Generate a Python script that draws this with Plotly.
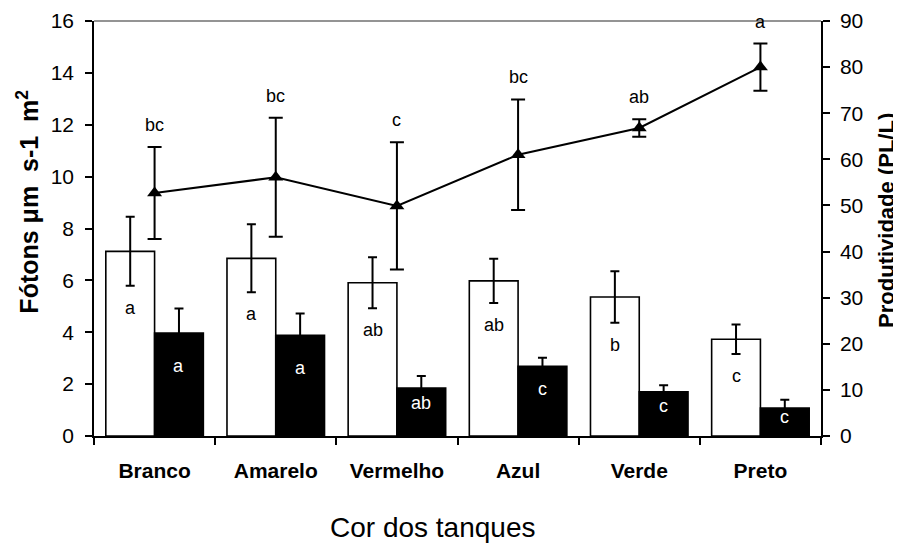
import plotly.graph_objects as go

# ── Data ─────────────────────────────────────────────────────────────────────
categories = ["Branco", "Amarelo", "Vermelho", "Azul", "Verde", "Preto"]

white_vals = [7.12, 6.85, 5.91, 5.98, 5.36, 3.73]
white_err = [1.33, 1.31, 0.98, 0.85, 0.99, 0.57]
white_letters = ["a", "a", "ab", "ab", "b", "c"]

black_vals = [3.97, 3.88, 1.85, 2.69, 1.70, 1.08]
black_err = [0.95, 0.84, 0.46, 0.33, 0.26, 0.32]
black_letters = ["a", "a", "ab", "c", "c", "c"]

prod_vals = [52.7, 56.1, 49.9, 61.0, 66.8, 80.0]
prod_err = [10.0, 12.9, 13.8, 12.0, 1.9, 5.1]
prod_letters = ["bc", "bc", "c", "bc", "ab", "a"]

FONT = "Liberation Sans, Arial, sans-serif"
BARGAP = 0.195
HALF = (1 - BARGAP) / 4  # offset of each bar centre from category centre

fig = go.Figure()

fig.add_trace(go.Bar(
    x=categories, y=white_vals,
    marker=dict(color="white", line=dict(color="black", width=1.6)),
    error_y=dict(type="data", array=white_err, color="black", thickness=2, width=4.5),
    yaxis="y", showlegend=False,
))
fig.add_trace(go.Bar(
    x=categories, y=black_vals,
    marker=dict(color="black", line=dict(color="black", width=1.6)),
    error_y=dict(type="data", array=black_err, color="black", thickness=2, width=4.5),
    yaxis="y", showlegend=False,
))
fig.add_trace(go.Scatter(
    x=categories, y=prod_vals, mode="lines+markers",
    line=dict(color="black", width=2),
    marker=dict(symbol="triangle-up", size=13, color="black"),
    error_y=dict(type="data", array=prod_err, color="black", thickness=2, width=7),
    yaxis="y2", showlegend=False,
))

# ── Letter labels ────────────────────────────────────────────────────────────
for i, (v, e, t) in enumerate(zip(white_vals, white_err, white_letters)):
    fig.add_annotation(x=i - HALF, y=v - e, yref="y", text=t, showarrow=False,
                       yanchor="top", yshift=-10, font=dict(size=18, color="black"))
for i, (v, t) in enumerate(zip(black_vals, black_letters)):
    fig.add_annotation(x=i + HALF, y=v * 0.68, yref="y", text=t, showarrow=False,
                       yanchor="middle", font=dict(size=18, color="white"))
for i, (v, e, t) in enumerate(zip(prod_vals, prod_err, prod_letters)):
    fig.add_annotation(x=i, y=v + e, yref="y2", text=t, showarrow=False,
                       yanchor="bottom", yshift=10, font=dict(size=18, color="black"))

# ── Axis titles as annotations ───────────────────────────────────────────────
fig.add_annotation(xref="paper", yref="paper", x=-0.092, y=0.565,
                   xanchor="center", yanchor="middle",
                   text="<b>Fótons μm  s-1  m<sup>2</sup></b>", textangle=-90,
                   showarrow=False, font=dict(size=25, color="black"))
fig.add_annotation(xref="paper", yref="paper", x=1.089, y=0.52,
                   xanchor="center", yanchor="middle",
                   text="<b>Produtividade (PL/L)</b>", textangle=-90,
                   showarrow=False, font=dict(size=22, color="black"))
fig.add_annotation(xref="paper", yref="paper", x=0.465, y=-0.22,
                   xanchor="center", yanchor="middle",
                   text="Cor dos tanques", showarrow=False,
                   font=dict(size=28, color="black"))

# top frame line
fig.add_shape(type="line", xref="paper", yref="paper", x0=0, x1=1, y0=1, y1=1,
              line=dict(color="#707070", width=1.5))

tick_common = dict(ticklen=7, tickwidth=1.5, tickcolor="black")

# page body adds an 8px margin, so the figure is sized 8px smaller
fig.update_layout(
    width=893, height=535,
    margin=dict(l=86, r=80, t=13, b=107),
    plot_bgcolor="white", paper_bgcolor="white",
    font=dict(family=FONT, color="black"),
    barmode="group", bargap=BARGAP, bargroupgap=0,
    xaxis=dict(
        type="category", tickson="boundaries", ticks="outside", **tick_common,
        showline=True, linecolor="black", linewidth=1.5, showgrid=False,
        tickfont=dict(size=21, weight="bold"), ticklabelstandoff=15,
        automargin=False,
    ),
    xaxis2=dict(
        overlaying="x", type="linear", range=[-0.5, 5.5], tick0=-0.5, dtick=1,
        ticks="inside", **tick_common, showticklabels=False, showgrid=False,
        zeroline=False, showline=False,
    ),
    yaxis=dict(
        range=[0, 16], dtick=2, ticks="outside", **tick_common,
        showline=True, linecolor="black", linewidth=1.5, showgrid=False,
        zeroline=False, tickfont=dict(size=21), ticklabelstandoff=7,
        automargin=False,
    ),
    yaxis2=dict(
        overlaying="y", side="right", range=[0, 90], dtick=10,
        ticks="outside", **tick_common, showline=True, linecolor="black",
        linewidth=1.5, showgrid=False, zeroline=False, tickfont=dict(size=21),
        ticklabelstandoff=6, automargin=False,
    ),
    yaxis3=dict(
        overlaying="y", side="left", range=[0, 16], dtick=2, ticks="inside",
        **tick_common, showticklabels=False, showgrid=False, zeroline=False,
        showline=False,
    ),
    yaxis4=dict(
        overlaying="y", side="right", range=[0, 90], dtick=10, ticks="inside",
        **tick_common, showticklabels=False, showgrid=False, zeroline=False,
        showline=False,
    ),
)

fig.write_html("out.html")
